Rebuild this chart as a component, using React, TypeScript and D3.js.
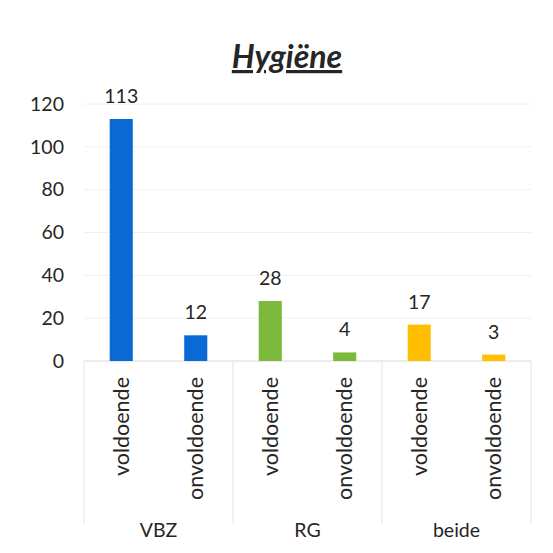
import React from "react";
import * as d3 from "d3";

const groups = ["VBZ", "RG", "beide"];
const subcats = ["voldoende", "onvoldoende"];
const values = [113, 12, 28, 4, 17, 3];
const groupColors = ["#0a69d4", "#7cb83a", "#ffbf00"];
const yTicks = [0, 20, 40, 60, 80, 100, 120];
const title = "Hygiëne";

const W = 553;
const H = 553;
const left = 84;
const right = 531;
const y0 = 361;
const yTop = 104;
const font = "Lato, 'Noto Sans', sans-serif";

export default function App() {
  const bars = groups.flatMap((g, gi) =>
    subcats.map((s, si) => ({
      key: `${g}-${s}`,
      group: g,
      gi,
      label: s,
      value: values[gi * subcats.length + si],
    }))
  );
  const x = d3
    .scaleBand<string>()
    .domain(bars.map((b) => b.key))
    .range([left, right])
    .paddingInner(0.69)
    .paddingOuter(0.345);
  const y = d3.scaleLinear().domain([0, 120]).range([y0, yTop]);
  const step = (right - left) / bars.length;
  const groupW = step * subcats.length;

  return (
    <svg
      width={W}
      height={H}
      style={{ position: "absolute", left: 0, top: 0, background: "#fff" }}
    >
      <rect x={0} y={0} width={W} height={H} fill="#fff" />
      <text
        x={287}
        y={68}
        textAnchor="middle"
        fontFamily={font}
        fontSize={32}
        fontWeight="bold"
        fontStyle="italic"
        textDecoration="underline"
        fill="#262626"
      >
        {title}
      </text>
      {yTicks.map((t) => (
        <g key={t}>
          {t > 0 && (
            <line x1={left} x2={right} y1={y(t)} y2={y(t)} stroke="#f0f0f0" strokeWidth={1} />
          )}
          <text
            x={64}
            y={y(t)}
            dy="0.35em"
            textAnchor="end"
            fontFamily={font}
            fontSize={19.5}
            fill="#262626"
          >
            {t}
          </text>
        </g>
      ))}
      <line x1={left} x2={right} y1={y0} y2={y0} stroke="#d9d9d9" strokeWidth={1} />
      {d3.range(groups.length + 1).map((i) => (
        <line
          key={i}
          x1={left + i * groupW}
          x2={left + i * groupW}
          y1={y0}
          y2={524}
          stroke="#e3e3e3"
          strokeWidth={1}
        />
      ))}
      {bars.map((b) => {
        const bx = x(b.key)!;
        const cx = bx + x.bandwidth() / 2;
        return (
          <g key={b.key}>
            <rect
              x={bx}
              y={y(b.value)}
              width={x.bandwidth()}
              height={y0 - y(b.value)}
              fill={groupColors[b.gi]}
            />
            <text
              x={cx}
              y={y(b.value) - 16}
              textAnchor="middle"
              fontFamily={font}
              fontSize={19.5}
              fill="#262626"
            >
              {b.value}
            </text>
            <text
              transform={`translate(${cx + 7.5},${y0 + 16}) rotate(-90)`}
              textAnchor="end"
              fontFamily={font}
              fontSize={21.5}
              fill="#262626"
            >
              {b.label}
            </text>
          </g>
        );
      })}
      {groups.map((g, gi) => (
        <text
          key={g}
          x={left + gi * groupW + groupW / 2}
          y={537}
          textAnchor="middle"
          fontFamily={font}
          fontSize={19.5}
          fill="#262626"
        >
          {g}
        </text>
      ))}
    </svg>
  );
}
